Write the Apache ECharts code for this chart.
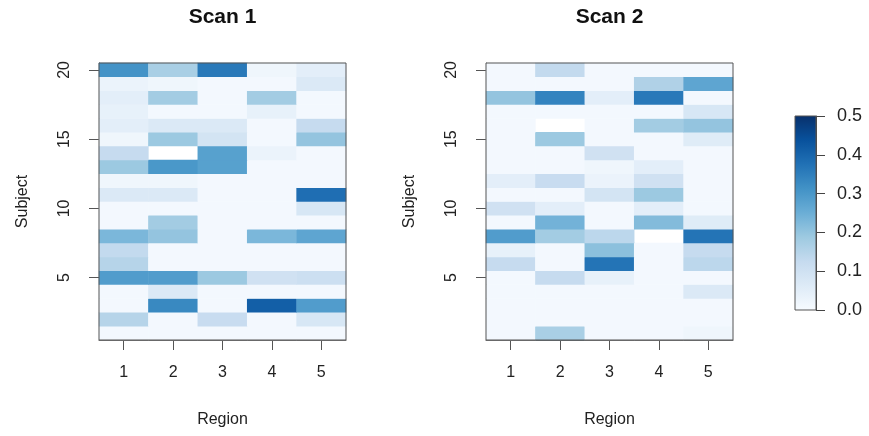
<!DOCTYPE html>
<html>
<head>
<meta charset="utf-8">
<script src="https://cdn.jsdelivr.net/npm/echarts@6/dist/echarts.min.js"></script>
<style>
  html, body { margin: 0; padding: 0; background: #fff; }
  #chart { width: 869px; height: 436px; }
</style>
</head>
<body>
<div id="chart"></div>
<script>
const regions = ['1', '2', '3', '4', '5'];
const subjects = ['1', '2', '3', '4', '5', '6', '7', '8', '9', '10',
  '11', '12', '13', '14', '15', '16', '17', '18', '19', '20'];

// one row per subject (1 -> 20), one value per region (1 -> 5); null = blank cell
const scan1 = [
  [0.01, 0.01, 0.01, 0.01, 0.01],
  [0.15, 0.01, 0.12, 0.01, 0.08],
  [0.01, 0.33, 0.01, 0.41, 0.29],
  [0.01, 0.07, 0.01, 0.01, 0.01],
  [0.29, 0.29, 0.19, 0.10, 0.11],
  [0.15, 0.01, 0.01, 0.01, 0.01],
  [0.13, 0.01, 0.01, 0.01, 0.01],
  [0.23, 0.20, 0.01, 0.23, 0.27],
  [0.01, 0.18, 0.01, 0.01, 0.01],
  [0.01, 0.01, 0.01, 0.01, 0.08],
  [0.07, 0.07, 0.01, 0.01, 0.38],
  [0.02, 0.02, 0.01, 0.01, 0.01],
  [0.19, 0.30, 0.28, 0.01, 0.01],
  [0.125, null, 0.28, 0.03, 0.01],
  [0.02, 0.19, 0.09, 0.01, 0.20],
  [0.05, 0.07, 0.07, 0.01, 0.125],
  [0.04, 0.01, 0.01, 0.04, 0.01],
  [0.05, 0.18, 0.01, 0.18, 0.01],
  [0.03, 0.02, 0.01, 0.01, 0.07],
  [0.31, 0.17, 0.36, 0.02, 0.05]
];

const scan2 = [
  [0.01, 0.17, 0.01, 0.01, 0.02],
  [0.01, 0.01, 0.01, 0.01, 0.01],
  [0.01, 0.01, 0.01, 0.01, 0.01],
  [0.01, 0.01, 0.01, 0.01, 0.07],
  [0.01, 0.125, 0.04, 0.01, 0.01],
  [0.125, 0.01, 0.37, 0.01, 0.14],
  [0.04, 0.01, 0.21, 0.01, 0.125],
  [0.29, 0.18, 0.14, null, 0.37],
  [0.01, 0.24, 0.01, 0.22, 0.06],
  [0.10, 0.05, 0.01, 0.05, 0.01],
  [0.01, 0.01, 0.09, 0.19, 0.01],
  [0.05, 0.12, 0.03, 0.10, 0.01],
  [0.01, 0.01, 0.02, 0.05, 0.01],
  [0.01, 0.01, 0.10, 0.01, 0.01],
  [0.01, 0.19, 0.01, 0.01, 0.06],
  [0.01, null, 0.01, 0.18, 0.20],
  [0.01, 0.01, 0.01, 0.01, 0.08],
  [0.20, 0.34, 0.05, 0.36, 0.01],
  [0.01, 0.01, 0.01, 0.16, 0.27],
  [0.01, 0.13, 0.01, 0.01, 0.01]
];

const colorTicks = [0, 0.1, 0.2, 0.3, 0.4, 0.5];
const blues = ['#f7fbff', '#deebf7', '#c6dbef', '#9ecae1', '#6baed6',
  '#4292c6', '#2171b5', '#08519c', '#08306b'];

const toCells = (rows) => {
  const out = [];
  rows.forEach((row, y) => {
    row.forEach((v, x) => {
      out.push([x, y, v == null ? '-' : v]);
    });
  });
  return out;
};

const font = 'Liberation Sans, Arial, sans-serif';
const every5 = (idx, val) => Number(val) % 5 === 0;

const panels = [
  {left: 99, title: 'Scan 1', data: scan1},
  {left: 486, title: 'Scan 2', data: scan2}
];
const plotW = 247, plotH = 277, plotTop = 63;
const bar = {left: 795, top: 116, width: 21, height: 194};

const chart = echarts.init(document.getElementById('chart'));

const option = {
  backgroundColor: '#fff',
  animation: false,
  textStyle: {fontFamily: font},
  title: panels.map(p => ({
    text: p.title,
    left: p.left + plotW / 2,
    top: 7,
    textAlign: 'center',
    padding: 0,
    textStyle: {fontFamily: font, fontWeight: 'bold', fontSize: 21, color: '#111'}
  })),
  grid: panels.map(p => ({left: p.left, top: plotTop, width: plotW, height: plotH}))
    .concat([bar]),
  xAxis: panels.map((p, i) => ({
    type: 'category',
    gridIndex: i,
    data: regions,
    name: 'Region',
    nameLocation: 'middle',
    nameGap: 72,
    nameTextStyle: {fontSize: 16, color: '#222', fontFamily: font},
    axisLine: {show: true, lineStyle: {color: '#555'}},
    axisTick: {show: true, alignWithLabel: true, length: 10, lineStyle: {color: '#555'}},
    axisLabel: {fontSize: 16, color: '#222', margin: 25, fontFamily: font},
    splitLine: {show: false}
  })).concat([{type: 'value', gridIndex: 2, show: false, min: 0, max: 1}]),
  yAxis: panels.map((p, i) => ({
    type: 'category',
    gridIndex: i,
    data: subjects,
    name: 'Subject',
    nameLocation: 'middle',
    nameGap: 68,
    nameRotate: 90,
    nameTextStyle: {fontSize: 16, color: '#222', fontFamily: font},
    axisLine: {show: true, lineStyle: {color: '#555'}},
    axisTick: {show: true, alignWithLabel: true, length: 10, interval: every5, lineStyle: {color: '#555'}},
    axisLabel: {fontSize: 16, color: '#222', margin: 26, rotate: 90, interval: every5, fontFamily: font},
    splitLine: {show: false}
  })).concat([{
    type: 'value',
    gridIndex: 2,
    position: 'right',
    min: colorTicks[0],
    max: colorTicks[colorTicks.length - 1],
    interval: 0.1,
    axisLine: {show: true, onZero: false, lineStyle: {color: '#444', width: 1}},
    axisTick: {show: true, inside: false, length: 9, lineStyle: {color: '#444', width: 1}},
    axisLabel: {fontSize: 18, color: '#222', margin: 21, fontFamily: font,
      formatter: v => v.toFixed(1)},
    splitLine: {show: false}
  }]),
  visualMap: {
    show: false,
    type: 'continuous',
    min: 0,
    max: 0.5,
    seriesIndex: [0, 1],
    inRange: {color: blues}
  },
  series: panels.map((p, i) => ({
    type: 'heatmap',
    xAxisIndex: i,
    yAxisIndex: i,
    data: toCells(p.data),
    itemStyle: {borderWidth: 0}
  })),
  graphic: panels.map(p => ({
    type: 'rect',
    z: 100,
    shape: {x: p.left, y: plotTop, width: plotW, height: plotH},
    style: {fill: 'none', stroke: '#555', lineWidth: 1}
  })).concat([{
    type: 'rect',
    z: 1,
    shape: {x: bar.left, y: bar.top, width: bar.width, height: bar.height},
    style: {
      stroke: '#555',
      lineWidth: 1,
      fill: new echarts.graphic.LinearGradient(0, 1, 0, 0,
        blues.map((c, k) => ({offset: k / (blues.length - 1), color: c})))
    }
  }])
};

chart.setOption(option);
</script>
</body>
</html>
